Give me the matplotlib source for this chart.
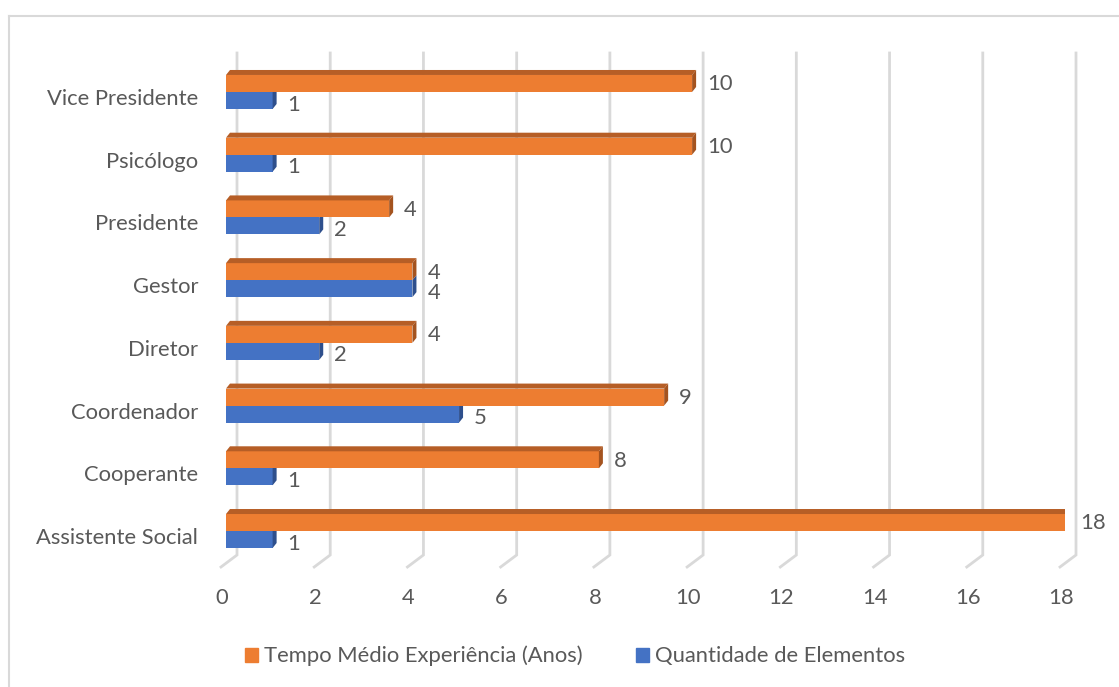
import matplotlib
matplotlib.use("Agg")
import matplotlib.pyplot as plt
from matplotlib.patches import Polygon, Patch
from matplotlib.lines import Line2D
from matplotlib.transforms import ScaledTranslation

plt.rcParams['font.family'] = ['Lato', 'DejaVu Sans']

# data (bottom to top)
categories = ["Assistente Social", "Cooperante", "Coordenador", "Diretor",
              "Gestor", "Presidente", "Psicólogo", "Vice Presidente"]
tempo = [18, 8, 9.4, 4, 4, 3.5, 10, 10]
quantidade = [1, 1, 5, 2, 4, 2, 1, 1]
xticks = [0, 2, 4, 6, 8, 10, 12, 14, 16, 18]

c_orange = "#ED7D31"
c_orange_top = "#B65E26"
c_orange_side = "#A4531F"
c_blue = "#4472C4"
c_blue_side = "#2E4F8C"
c_text = "#595959"
c_grid = "#D9D9D9"
fs = 15.8

W, H = 1119, 687
fig = plt.figure(figsize=(W / 100, H / 100), dpi=100)
ax = fig.add_axes([226 / W, 1 - 567 / H, 839 / W, 517 / H])
ax.set_xlim(0, 18)
ax.set_ylim(-0.494, 7.749)

pxx = 839 / 18.0        # pixels per x unit
pxy = 517 / 8.243       # pixels per y unit
ddx, ddy = 4 / pxx, 5 / pxy   # bar depth

# gridlines on the back wall + floor
for v in xticks:
    xb = v + 11 / pxx
    xf = v - 5 / pxx
    ybot = -0.494 + 12 / pxy
    ax.plot([xb, xb, xf], [7.749 - 3 / pxy, ybot, -0.494], color=c_grid, lw=2,
            zorder=0, clip_on=False, solid_joinstyle='miter')

ys = range(len(categories))
h = 17 / pxy
b_lo = -12 / pxy
o_lo = b_lo + h

# blue bars
ax.barh([y + b_lo for y in ys], quantidade, height=h, align='edge',
        color=c_blue, zorder=2)
for y, v in zip(ys, quantidade):
    y0, y1 = y + b_lo, y + b_lo + h
    ax.add_patch(Polygon([(v, y0), (v, y1), (v + ddx, y1 + ddy), (v + ddx, y0 + ddy)],
                         closed=True, color=c_blue_side, zorder=2, lw=0))
    ax.text(v + 15 / pxx, y - 0.12, f"{v:.0f}", va='center', ha='left',
            fontsize=fs, color=c_text)

# orange bars
ax.barh([y + o_lo for y in ys], tempo, height=h, align='edge',
        color=c_orange, zorder=3)
for y, v in zip(ys, tempo):
    y0, y1 = y + o_lo, y + o_lo + h
    ax.add_patch(Polygon([(0, y1), (v, y1), (v + ddx, y1 + ddy), (ddx, y1 + ddy)],
                         closed=True, color=c_orange_top, zorder=3, lw=0))
    ax.add_patch(Polygon([(v, y0), (v, y1), (v + ddx, y1 + ddy), (v + ddx, y0 + ddy)],
                         closed=True, color=c_orange_side, zorder=3, lw=0))
    ax.text(v + 15 / pxx, y + 0.2, f"{round(v):.0f}", va='center', ha='left',
            fontsize=fs, color=c_text)

ax.set_yticks(list(ys))
ax.set_yticklabels(categories, fontsize=fs, color=c_text)
ax.set_xticks(xticks)
ax.set_xticklabels([str(t) for t in xticks], fontsize=fs, color=c_text)
ax.tick_params(axis='y', length=0, pad=20)
ax.tick_params(axis='x', length=0, pad=15)
for lab in ax.get_xticklabels():
    lab.set_transform(lab.get_transform() + ScaledTranslation(-4 / 100, 0, fig.dpi_scale_trans))
for s in ax.spines.values():
    s.set_visible(False)
ax.patch.set_visible(False)

handles = [Patch(color=c_orange, label="Tempo Médio Experiência (Anos)"),
           Patch(color=c_blue, label="Quantidade de Elementos")]
leg = fig.legend(handles=handles, loc='center', bbox_to_anchor=(575 / W, 1 - 656 / H),
                 ncol=2, frameon=False, fontsize=fs, handlelength=0.6,
                 handleheight=0.6, handletextpad=0.3, columnspacing=2.4)
for t in leg.get_texts():
    t.set_color(c_text)

# chart border (left and top visible)
fig.add_artist(Line2D([9 / W, 9 / W], [0, 1 - 16 / H], color=c_grid, lw=1.5))
fig.add_artist(Line2D([9 / W, 1], [1 - 16 / H, 1 - 16 / H], color=c_grid, lw=1.5))

fig.savefig("out.png", dpi=100)
